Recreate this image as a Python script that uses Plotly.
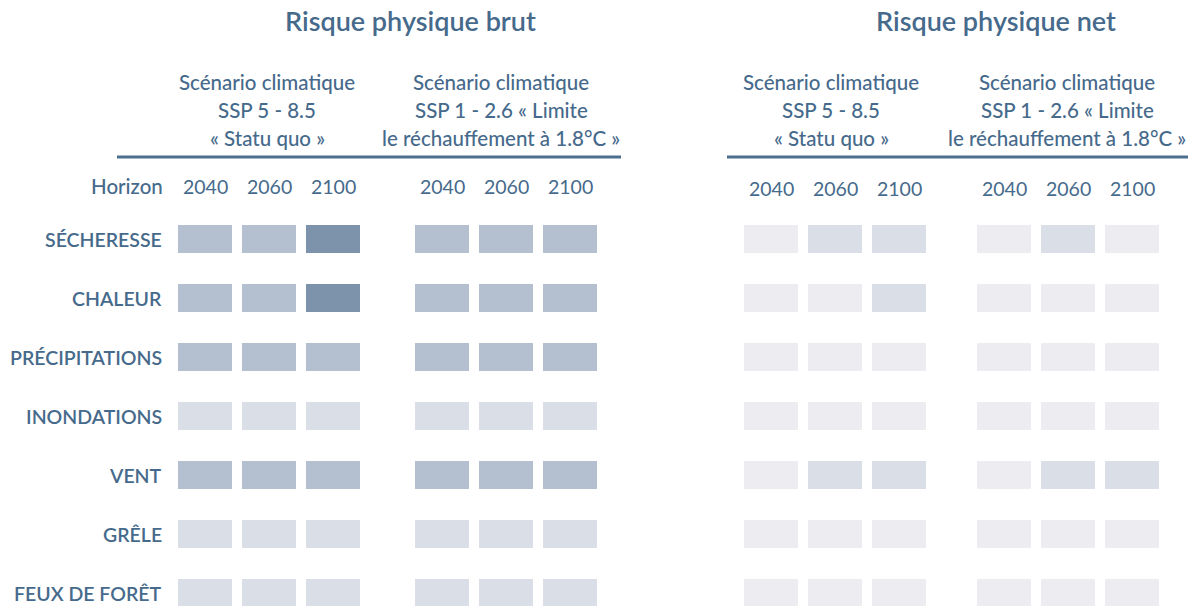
import plotly.graph_objects as go

risks = ["SÉCHERESSE", "CHALEUR", "PRÉCIPITATIONS", "INONDATIONS", "VENT", "GRÊLE", "FEUX DE FORÊT"]
years = ["2040", "2060", "2100"]
panel_titles = ["Risque physique brut", "Risque physique net"]
scenario_ssp5 = ["Scénario climatique", "SSP 5 - 8.5", "« Statu quo »"]
scenario_ssp1 = ["Scénario climatique", "SSP 1 - 2.6 « Limite", "le réchauffement à 1.8°C »"]

# niveau de risque (0 = très faible ... 3 = élevé), une ligne par risque, colonnes 2040 / 2060 / 2100
brut_ssp5 = [[2, 2, 3], [2, 2, 3], [2, 2, 2], [1, 1, 1], [2, 2, 2], [1, 1, 1], [1, 1, 1]]
brut_ssp1 = [[2, 2, 2], [2, 2, 2], [2, 2, 2], [1, 1, 1], [2, 2, 2], [1, 1, 1], [1, 1, 1]]
net_ssp5 = [[0, 1, 1], [0, 0, 1], [0, 0, 0], [0, 0, 0], [0, 1, 1], [0, 0, 0], [0, 0, 0]]
net_ssp1 = [[0, 1, 0], [0, 0, 0], [0, 0, 0], [0, 0, 0], [0, 1, 1], [0, 0, 0], [0, 0, 0]]

level_colors = ["#edecf1", "#dadee7", "#b4bfd0", "#7d93ab"]
text_color = "#466a8b"
line_color = "#4d6f8e"
font_family = "Lato, 'Noto Sans', sans-serif"

W, H = 1196, 606
cell_w, cell_h = 54, 28
col_step = 64
row_top0, row_step = 225, 59
group_left = [178, 415, 744, 977]
groups = [brut_ssp5, brut_ssp1, net_ssp5, net_ssp1]

fig = go.Figure()

for g, (left, grid) in enumerate(zip(group_left, groups)):
    xs, bases, colors = [], [], []
    for i, row in enumerate(grid):
        for j, lvl in enumerate(row):
            xs.append(left + j * col_step + cell_w / 2)
            bases.append(row_top0 + i * row_step)
            colors.append(level_colors[lvl])
    fig.add_trace(go.Bar(
        x=xs, y=[cell_h] * len(xs), base=bases, width=cell_w,
        marker=dict(color=colors, line=dict(width=0)),
        hoverinfo="skip", showlegend=False,
    ))

ann = []

def add_text(x, y, text, size, xanchor="center", weight=400):
    ann.append(dict(x=x, y=y, text=text, showarrow=False, xanchor=xanchor, yanchor="middle",
                    font=dict(family=font_family, size=size, color=text_color, weight=weight)))

# panel titles
add_text(410, 20, panel_titles[0], 27, weight=600)
add_text(996, 20, panel_titles[1], 27, weight=600)

# scenario headers
header_centers = [(267, scenario_ssp5), (501, scenario_ssp1), (831, scenario_ssp5), (1067, scenario_ssp1)]
for cx, lines in header_centers:
    for k, line in enumerate(lines):
        add_text(cx, 82 + k * 28, line, 20.5, weight=500)

# underlines
shapes = [
    dict(type="line", x0=117, x1=621, y0=157, y1=157, line=dict(color=line_color, width=3)),
    dict(type="line", x0=727, x1=1188, y0=157, y1=157, line=dict(color=line_color, width=3)),
]

# horizon row
add_text(165, 186, "Horizon", 20.5, xanchor="right", weight=500)
for g, left in enumerate(group_left):
    yy = 186 if g < 2 else 188
    for j, yr in enumerate(years):
        add_text(left + j * col_step + cell_w / 2, yy, yr, 19.5, weight=400)

# risk labels
for i, r in enumerate(risks):
    add_text(164, row_top0 + i * row_step + cell_h / 2, r, 19.5, xanchor="right", weight=600)

fig.update_layout(
    width=W, height=H,
    margin=dict(l=0, r=0, t=0, b=0),
    paper_bgcolor="white", plot_bgcolor="white",
    barmode="overlay", bargap=0,
    xaxis=dict(range=[0, W], visible=False, fixedrange=True),
    yaxis=dict(range=[H, 0], visible=False, fixedrange=True),
    annotations=ann, shapes=shapes,
)

fig.write_html("out.html", config={"displayModeBar": False},
               post_script="document.body.style.margin='0';")
